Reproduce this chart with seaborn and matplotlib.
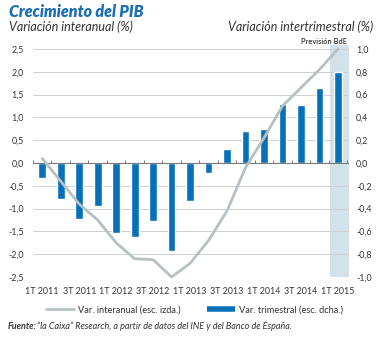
import matplotlib
matplotlib.use("Agg")
import matplotlib.pyplot as plt
from matplotlib.lines import Line2D
from matplotlib.patches import Rectangle
import seaborn as sns
import pandas as pd
import numpy as np

quarters = ["1T 2011", "2T 2011", "3T 2011", "4T 2011",
            "1T 2012", "2T 2012", "3T 2012", "4T 2012",
            "1T 2013", "2T 2013", "3T 2013", "4T 2013",
            "1T 2014", "2T 2014", "3T 2014", "4T 2014",
            "1T 2015"]
interanual = [0.1, -0.4, -0.9, -1.25, -1.75, -2.1, -2.12, -2.5,
              -2.2, -1.7, -1.05, -0.1, 0.55, 1.25, 1.65, 2.05, 2.5]
trimestral = [-0.13, -0.32, -0.49, -0.38, -0.61, -0.65, -0.51, -0.77,
              -0.33, -0.09, 0.12, 0.28, 0.30, 0.52, 0.51, 0.66, 0.80]
left_ticks = [-2.5, -2.0, -1.5, -1.0, -0.5, 0.0, 0.5, 1.0, 1.5, 2.0, 2.5]
right_ticks = [-1.0, -0.8, -0.6, -0.4, -0.2, 0.0, 0.2, 0.4, 0.6, 0.8, 1.0]

df = pd.DataFrame({"q": quarters, "idx": np.arange(len(quarters)),
                   "interanual": interanual, "trimestral": trimestral})

sns.set_theme(style="white")
plt.rcParams["font.family"] = ["Lato", "DejaVu Sans"]

BLUE = "#0870b9"
GRAY = "#b5c1c2"
BAND = "#d3e1e9"
TXT = "#333333"


def fmt(v):
    s = f"{v:.1f}".replace(".", ",")
    return "0,0" if s == "-0,0" else s


fig = plt.figure(figsize=(3.83, 3.38), dpi=100)
fig.patch.set_facecolor("white")
ax = fig.add_axes([33/383, 1-277/338, 316/383, 228/338])
ax.set_facecolor("none")

# forecast band
ax.add_patch(Rectangle((15.55, 0), 1.05, 1.018, transform=ax.get_xaxis_transform(),
                       facecolor=BAND, edgecolor="none", zorder=0, clip_on=False))

# bars (right scale)
sns.barplot(data=df, x="q", y="trimestral", color=BLUE, width=0.42,
            saturation=1, ax=ax, zorder=3)
ax.set_ylim(-1.0, 1.0)
ax.set_xlim(-0.5, 16.6)
for y in right_ticks:
    if abs(y) < 1e-9:
        continue
    ax.axhline(y, color="#cfcfcf", lw=0.7, zorder=1)
ax.axhline(0, color="#7a7a7a", lw=0.8, zorder=4)
ax.vlines(np.arange(-0.5, 16.6, 1.0), 0, 0.025, color="#7a7a7a", lw=0.7, zorder=4)
ax.set_xticks(range(len(quarters)))
ax.set_xticklabels([q if i % 2 == 0 else "" for i, q in enumerate(quarters)])
ax.tick_params(axis="x", length=0, pad=7, labelsize=6.4, labelcolor=TXT)
ax.set_xlabel("")
ax.set_ylabel("")
for s in ax.spines.values():
    s.set_visible(False)

# line (left scale)
ax2 = ax.twinx()
sns.lineplot(data=df, x="idx", y="interanual", color=GRAY, lw=2.0, ax=ax2,
             zorder=5, clip_on=False)
ax2.set_ylim(-2.5, 2.5)
ax2.set_xlim(-0.5, 16.6)
ax2.set_xlabel("")
ax2.set_ylabel("")
for s in ax2.spines.values():
    s.set_visible(False)

# tick placement (after twinx, which resets the host's side)
ax.yaxis.tick_right()
ax.set_yticks(right_ticks)
ax.set_yticklabels([fmt(v) for v in right_ticks])
ax.tick_params(axis="y", length=0, pad=5, labelsize=6.4, labelcolor=TXT,
               left=False, right=False, labelright=True, labelleft=False)

ax2.yaxis.tick_left()
ax2.set_yticks(left_ticks)
ax2.set_yticklabels([fmt(v) for v in left_ticks])
ax2.tick_params(axis="y", length=0, pad=6.5, labelsize=6.4, labelcolor=TXT,
                left=False, right=False, labelleft=True, labelright=False)

# texts
fig.text(9/383, 1-17/338, "Crecimiento del PIB", color="#1b6fb6", fontsize=11.5,
         fontweight="heavy", fontstyle="italic", va="baseline", ha="left")
fig.text(9/383, 1-31/338, "Variación interanual (%)", color=TXT, fontsize=9,
         fontstyle="italic", va="baseline", ha="left")
fig.text(373/383, 1-31/338, "Variación intertrimestral (%)", color=TXT, fontsize=9,
         fontstyle="italic", va="baseline", ha="right")
fig.text(347/383, 1-44/338, "Previsión BdE", color=TXT, fontsize=5.4,
         fontweight="semibold", va="baseline", ha="right")

handles = [Line2D([], [], color=GRAY, lw=2.0),
           Line2D([], [], color=BLUE, lw=4.0, solid_capstyle="butt")]
labels = ["Var. interanual (esc. izda.)", "Var. trimestral (esc. dcha.)"]
fig.legend(handles, labels, loc="center left", bbox_to_anchor=(38/383, 1-310/338),
           ncol=2, frameon=False, fontsize=6.7, handlelength=3.0, handletextpad=0.45,
           columnspacing=2.8, labelcolor=TXT)

t1 = fig.text(8/383, 1-329/338, "Fuente:", color=TXT, fontsize=6.5, fontweight="bold",
              fontstyle="italic", va="baseline", ha="left")
fig.canvas.draw()
bb = t1.get_window_extent(renderer=fig.canvas.get_renderer())
x2 = (bb.x1 + 0.5) / fig.bbox.width
fig.text(x2, 1-329/338,
         "“la Caixa” Research, a partir de datos del INE y del Banco de España.",
         color=TXT, fontsize=6.5, fontstyle="italic", va="baseline", ha="left")

fig.savefig("out.png", dpi=100, facecolor="white")
